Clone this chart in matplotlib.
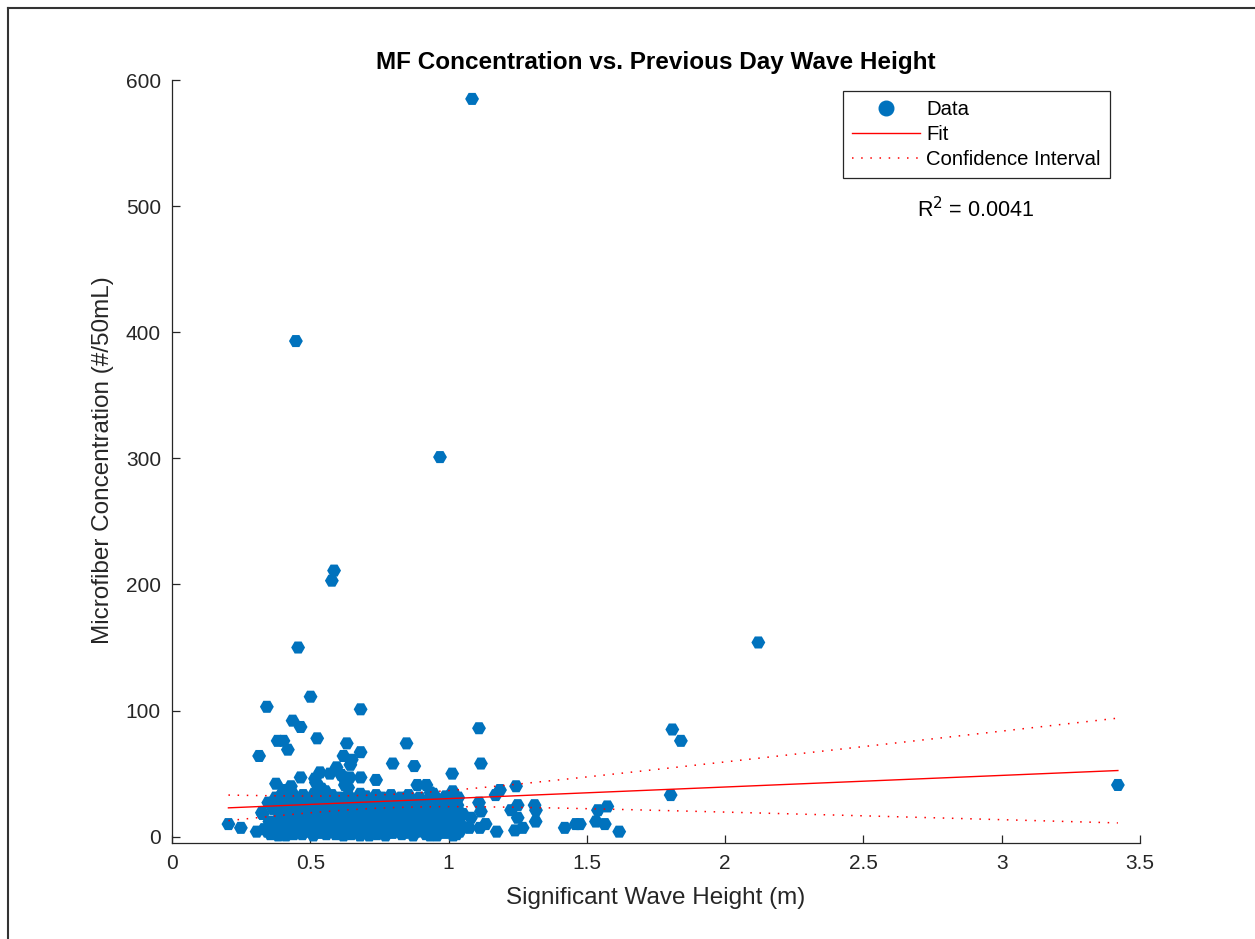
import numpy as np
import matplotlib
matplotlib.use('Agg')
import matplotlib.pyplot as plt
from matplotlib.lines import Line2D
from matplotlib.ticker import FormatStrFormatter

plt.rcParams['font.family'] = ['Liberation Sans', 'DejaVu Sans']

# significant wave height of the previous day (m) and microfiber counts (#/50mL)
# sparse / high points
wave_hi = [1.085, 0.448, 0.969, 0.586, 0.578, 2.120, 0.456, 0.501, 0.343, 0.682,
           0.436, 0.465, 1.110, 1.809, 0.525, 0.382, 0.403, 1.840, 0.632, 0.848,
           0.419, 0.682, 0.315, 0.620, 0.650, 0.645, 0.798, 1.117, 0.876, 0.595,
           0.535, 0.571, 0.612, 1.013, 0.517, 0.465, 0.620, 0.643, 0.682, 0.738,
           0.520, 0.376, 0.430, 0.530, 0.625, 0.637, 0.887, 0.920, 1.244, 3.420,
           0.541, 0.410, 1.186, 0.400, 0.935, 1.015, 0.945, 1.017, 1.170, 1.803,
           0.990, 0.987, 1.035, 1.110, 1.250, 1.311, 1.574, 1.226, 1.316, 1.035,
           1.117, 1.540, 0.325, 1.081, 1.250, 1.315, 1.533, 0.204, 1.035, 1.134,
           1.460, 1.475, 1.565, 0.249, 1.075, 1.113, 1.268, 1.420, 1.240, 0.306,
           0.345, 1.174, 1.617, 1.018, 0.384, 1.017, 0.933]
conc_hi = [585, 393, 301, 211, 203, 154, 150, 111, 103, 101,
           92, 87, 86, 85, 78, 76, 76, 76, 74, 74,
           69, 67, 64, 64, 61, 57, 58, 58, 56, 55,
           51, 50, 49, 50, 46, 47, 47, 47, 47, 45,
           43, 42, 40, 40, 41, 39, 41, 41, 40, 41,
           38, 37, 37, 34, 35, 36, 34, 34, 33, 33,
           32, 31, 31, 27, 25, 25, 24, 21, 21, 21,
           20, 21, 19, 15, 15, 12, 12, 10, 10, 10,
           10, 10, 10, 7, 7, 7, 7, 7, 5, 4,
           4, 4, 4, 2, 1, 1, 1]

# dense low-concentration samples
wave_lo = [0.328, 0.333,
           0.348, 0.352, 0.356,
           0.366, 0.371, 0.375,
           0.386, 0.389, 0.392, 0.395,
           0.404, 0.409, 0.412, 0.416,
           0.425, 0.428, 0.431, 0.434, 0.437,
           0.446, 0.450, 0.453, 0.457,
           0.465, 0.468, 0.471, 0.474, 0.477,
           0.486, 0.489, 0.492, 0.495,
           0.505, 0.508, 0.511, 0.514, 0.517,
           0.526, 0.529, 0.532, 0.535, 0.538,
           0.546, 0.549, 0.552, 0.555, 0.558,
           0.566, 0.569, 0.572, 0.575, 0.578,
           0.586, 0.589, 0.592, 0.595, 0.598,
           0.605, 0.608, 0.611, 0.614, 0.617, 0.620,
           0.625, 0.628, 0.631, 0.634, 0.637, 0.640,
           0.645, 0.648, 0.651, 0.654, 0.657, 0.660,
           0.666, 0.669, 0.672, 0.675, 0.678, 0.681,
           0.686, 0.689, 0.692, 0.695, 0.698, 0.701,
           0.707, 0.710, 0.713, 0.716, 0.719,
           0.726, 0.729, 0.732, 0.735, 0.738, 0.741,
           0.747, 0.750, 0.753, 0.756, 0.759,
           0.766, 0.769, 0.772, 0.775, 0.778,
           0.786, 0.789, 0.792, 0.795, 0.798,
           0.806, 0.809, 0.812, 0.815,
           0.825, 0.828, 0.831, 0.834, 0.837,
           0.846, 0.849, 0.852, 0.855,
           0.866, 0.869, 0.872, 0.875, 0.878,
           0.886, 0.889, 0.892, 0.895,
           0.906, 0.909, 0.912, 0.915, 0.918,
           0.926, 0.929, 0.932, 0.935,
           0.946, 0.949, 0.952, 0.955, 0.958,
           0.966, 0.969, 0.972, 0.975,
           0.986, 0.989, 0.992, 0.995, 0.998,
           1.006, 1.009, 1.012, 1.015,
           1.026, 1.029, 1.032,
           1.046, 1.052]
conc_lo = [18, 6,
           27, 12, 2,
           22, 9, 31,
           15, 4, 26, 33,
           20, 8, 1, 29,
           12, 24, 3, 35, 17,
           6, 30, 19, 10,
           26, 14, 2, 33, 21,
           9, 18, 29, 4,
           23, 12, 1, 34, 16,
           7, 27, 19, 3, 31,
           14, 22, 8, 36, 2,
           28, 11, 5, 19, 33,
           17, 24, 2, 9, 30,
           13, 31, 6, 21, 26, 1,
           9, 18, 27, 4, 33, 14,
           24, 2, 12, 30, 7, 19,
           16, 29, 5, 22, 10, 34,
           3, 20, 13, 27, 8, 32,
           11, 25, 1, 17, 30,
           6, 21, 14, 28, 33, 2,
           18, 9, 26, 4, 31,
           13, 23, 1, 29, 7,
           20, 10, 33, 15, 3,
           27, 5, 17, 24,
           12, 31, 2, 20, 8,
           16, 26, 6, 33,
           22, 10, 1, 29, 14,
           4, 18, 25, 31,
           12, 27, 7, 20, 2,
           16, 29, 9, 23,
           5, 21, 13, 30, 1,
           18, 26, 8, 14,
           3, 24, 11, 28, 19,
           15, 7, 27, 22,
           12, 2, 25,
           9, 18]

# more samples hidden inside the dense band
wave_mid = [0.36, 0.40, 0.44, 0.48, 0.52, 0.56, 0.60, 0.64, 0.68, 0.72,
            0.76, 0.80, 0.84, 0.88, 0.92, 0.96, 1.00, 0.42, 0.50, 0.58,
            0.66, 0.74, 0.82, 0.90, 0.98, 0.38, 0.46, 0.54, 0.62, 0.70,
            0.78, 0.86, 0.94, 1.04]
conc_mid = [5, 11, 2, 7, 5, 10, 4, 8, 1, 9,
            5, 12, 3, 8, 5, 10, 6, 15, 20, 14,
            25, 16, 22, 15, 13, 24, 13, 28, 16, 22,
            18, 11, 18, 4]

# linear fit (intercept, slope) and residual spread
fit_intercept = 21.0
fit_slope = 9.2
resid_sd = 46.0
t_95 = 1.97
r2 = 0.0041

x = np.array(wave_hi + wave_lo + wave_mid)
y = np.array(conc_hi + conc_lo + conc_mid, dtype=float)

# fit line + 95% confidence band of the mean
n = len(x)
xf = np.linspace(x.min(), x.max(), 200)
yf = fit_intercept + fit_slope * xf
sxx = np.sum((x - x.mean()) ** 2)
half = t_95 * resid_sd * np.sqrt(1.0 / n + (xf - x.mean()) ** 2 / sxx)

blue = '#0072BD'
fig = plt.figure(figsize=(12.55, 9.39), dpi=100)
ax = fig.add_axes([172 / 1255, 1 - 843 / 939, 968 / 1255, 763 / 939])

ax.scatter(x, y, s=100, marker='H', color=blue, edgecolors='none', zorder=2)
ax.plot(xf, yf, color='red', lw=1.0, zorder=3)
ax.plot(xf, yf + half, color='red', lw=1.1, ls=(0, (1, 5)), zorder=3)
ax.plot(xf, yf - half, color='red', lw=1.1, ls=(0, (1, 5)), zorder=3)

ax.set_xlim(0, 3.5)
ax.set_ylim(-5, 600)
ax.set_xticks(np.arange(0, 3.51, 0.5))
ax.set_yticks(np.arange(0, 601, 100))
ax.xaxis.set_major_formatter(FormatStrFormatter('%g'))
for side in ['top', 'right']:
    ax.spines[side].set_visible(False)
for side in ['left', 'bottom']:
    ax.spines[side].set_color('#262626')
    ax.spines[side].set_linewidth(0.9)
ax.tick_params(direction='in', length=6, width=0.9, color='#262626',
               labelsize=15, labelcolor='#262626', pad=8)

ax.set_xlabel('Significant Wave Height (m)', fontsize=17.5, color='#262626', va='center')
ax.xaxis.set_label_coords(0.5, (843 - 898) / 763)
ax.set_ylabel('Microfiber Concentration (#/50mL)', fontsize=17.5, color='#262626',
              va='center', ha='center')
ax.yaxis.set_label_coords((103 - 172) / 968, (843 - 460) / 763)

fig.text(656 / 1255, 1 - 62 / 939, 'MF Concentration vs. Previous Day Wave Height',
         ha='center', va='center', fontsize=17.5, fontweight='bold')

handles = [Line2D([], [], ls='none', marker='o', ms=10.5, color=blue),
           Line2D([], [], color='red', lw=1.0),
           Line2D([], [], color='red', lw=1.1, ls=(0, (1, 5)))]
leg = ax.legend(handles, ['Data', 'Fit', 'Confidence Interval'],
                loc='upper right', bbox_to_anchor=(1110 / 1255, 1 - 91 / 939),
                bbox_transform=fig.transFigure, borderaxespad=0, fontsize=14.6,
                handlelength=3.35, handletextpad=0.3, labelspacing=0.3,
                borderpad=0.45, fancybox=False, framealpha=1)
leg.get_frame().set_edgecolor('#262626')
leg.get_frame().set_linewidth(0.9)

fig.text(976 / 1255, 1 - 210 / 939, 'R$^2$ = %.4f' % r2, ha='center', va='center',
         fontsize=15.5)

# window border lines on top and left
fig.add_artist(Line2D([8 / 1255, 1], [1 - 8 / 939, 1 - 8 / 939],
                      transform=fig.transFigure, color='#333333', lw=1.5))
fig.add_artist(Line2D([8 / 1255, 8 / 1255], [0, 1 - 8 / 939],
                      transform=fig.transFigure, color='#333333', lw=1.5))

fig.savefig('out.png', dpi=100)
